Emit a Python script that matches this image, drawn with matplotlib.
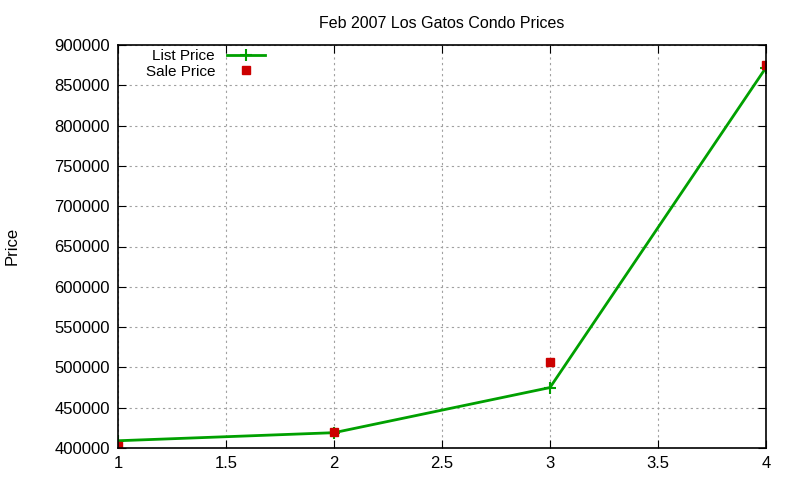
import matplotlib
matplotlib.use("Agg")
import matplotlib.pyplot as plt

x_vals = [1, 2, 3, 4]
list_price = [409000, 419000, 475000, 872000]
sale_price = [402000, 420000, 507000, 875000]
title = "Feb 2007 Los Gatos Condo Prices"

plt.rcParams['font.family'] = ['Liberation Sans', 'DejaVu Sans']
fig = plt.figure(figsize=(8, 4.8), dpi=100)
ax = fig.add_axes([118/800, 1-448/480, (766-118)/800, (448-45)/480])

ax.plot(x_vals, list_price, color='#00a000', lw=2, marker='+', ms=8, mew=1.5, label='List Price')
ax.plot(x_vals, sale_price, ls='none', marker='s', ms=6, color='#cc0000', label='Sale Price')

ax.set_xlim(1, 4)
ax.set_ylim(400000, 900000)
ax.set_xticks([1, 1.5, 2, 2.5, 3, 3.5, 4])
ax.set_xticklabels(['1', '1.5', '2', '2.5', '3', '3.5', '4'])
ax.set_yticks(range(400000, 900001, 50000))
ax.set_yticklabels([str(v) for v in range(400000, 900001, 50000)])
ax.grid(True, color='#a0a0a0', ls=(0, (2, 3)), lw=0.8)
ax.tick_params(direction='in', top=True, right=True, labelsize=12, length=6, pad=6)
for s in ax.spines.values():
    s.set_linewidth(1.2)
ax.set_title(title, fontsize=11.5, pad=12)
fig.text(12/800, 1-246/480, 'Price', rotation=90, fontsize=12, va='center', ha='center')

leg = ax.legend(loc='upper left', bbox_to_anchor=(0.026, 1.016), frameon=False, markerfirst=False,
                fontsize=11, handlelength=2.5, labelspacing=0.1, borderaxespad=0.3)
for t in leg.get_texts():
    t.set_ha('right')
leg._legend_box.align = 'right'

fig.savefig('out.png', dpi=100)
